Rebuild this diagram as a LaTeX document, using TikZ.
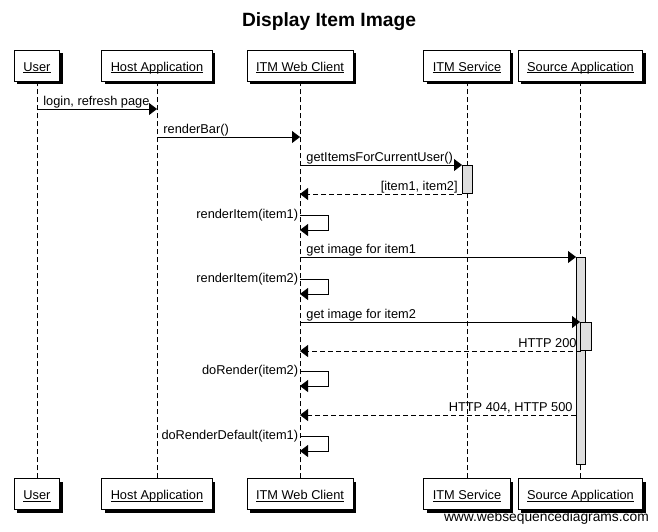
\documentclass[tikz,border=0pt]{standalone}
\usepackage{fontspec}
\setmainfont{Liberation Sans}
\usetikzlibrary{arrows.meta,positioning,shadows}
\newcommand{\actorname}[1]{\underline{\smash{#1}}}
\tikzstyle{actor}=[
	rectangle,
	draw,
	line width=0.8pt,
	fill=white,
	minimum height=31pt,
	inner xsep=9pt,
	text height=12pt,
	text depth=1pt,
	font=\fontsize{12.8}{15}\selectfont,
	drop shadow={shadow xshift=3pt,shadow yshift=-3pt,opacity=1,fill=black},
	node distance=397pt
]
\tikzstyle{lifeline}=[
	line width=0.8pt,
	dash pattern=on 5pt off 3pt
]
\tikzstyle{call}=[
	-{Triangle[length=8pt,width=12pt]},
	line width=0.8pt
]
\tikzstyle{reply}=[
	call,
	dash pattern=on 5pt off 3pt
]
\tikzstyle{activation}=[
	draw,
	line width=0.8pt,
	fill=black!13
]
\tikzstyle{msgtext}=[
	font=\fontsize{12.8}{15}\selectfont,
	inner sep=2pt
]
\tikzstyle{selftext}=[
	msgtext,
	anchor=east,
	inner sep=1.5pt
]

\begin{document}
\begin{tikzpicture}[x=1pt,y=-1pt]
\useasboundingbox (0,0) rectangle (658,531);
\node [font=\bfseries\fontsize{19.2}{22}\selectfont] (title) at (329,22) {Display Item Image};
% participants
\node [actor] (user) at (37,65.5) {\actorname{User}};
\node [actor] (host) at (157,65.5) {\actorname{Host Application}};
\node [actor] (client) at (300,65.5) {\actorname{ITM Web Client}};
\node [actor] (service) at (467,65.5) {\actorname{ITM Service}};
\node [actor] (source) at (580.5,65.5) {\actorname{Source Application}};
\node [actor] (userB)[below=of user] {\actorname{User}}
	edge [lifeline] (user);
\node [actor] (hostB)[below=of host] {\actorname{Host Application}}
	edge [lifeline] (host);
\node [actor] (clientB)[below=of client] {\actorname{ITM Web Client}}
	edge [lifeline] (client);
\node [actor] (serviceB)[below=of service] {\actorname{ITM Service}}
	edge [lifeline] (service);
\node [actor] (sourceB)[below=of source] {\actorname{Source Application}}
	edge [lifeline] (source);
% activations
\filldraw [activation] (462,165) rectangle (472,193);
\filldraw [activation] (576,257) rectangle (585,464);
\filldraw [activation] (580,322) rectangle (591,350);
% messages
\draw [call] (user |- 0,109) -- node [msgtext,pos=0,anchor=base west,xshift=4pt,yshift=4pt] {login, refresh page} (host |- 0,109);
\draw [call] (host |- 0,137) -- node [msgtext,pos=0,anchor=base west,xshift=4pt,yshift=4pt] {renderBar()} (client |- 0,137);
\draw [call,shorten >=5pt] (client |- 0,165) -- node [msgtext,pos=0,anchor=base west,xshift=4pt,yshift=4pt] {getItemsForCurrentUser()} (service |- 0,165);
\draw [reply,shorten <=5pt] (service |- 0,194) -- node [msgtext,pos=0,anchor=base east,xshift=-7pt,yshift=4pt] {[item1, item2]} (client |- 0,194);
\draw [call] (client |- 0,215) node [selftext] {renderItem(item1)} -- ++(28,0) |- (client |- 0,230);
\draw [call,shorten >=4.5pt] (client |- 0,257) -- node [msgtext,pos=0,anchor=base west,xshift=4pt,yshift=4pt] {get image for item1} (source |- 0,257);
\draw [call] (client |- 0,279) node [selftext] {renderItem(item2)} -- ++(28,0) |- (client |- 0,294);
\draw [call,shorten >=0.5pt] (client |- 0,322) -- node [msgtext,pos=0,anchor=base west,xshift=4pt,yshift=4pt] {get image for item2} (source |- 0,322);
\draw [reply] (source |- 0,351) -- node [msgtext,pos=0,anchor=base east,xshift=-1.5pt,yshift=4pt] {HTTP 200} (client |- 0,351);
\draw [call] (client |- 0,371) node [selftext] {doRender(item2)} -- ++(28,0) |- (client |- 0,386);
\draw [reply,shorten <=4.5pt] (source |- 0,415) -- node [msgtext,pos=0,anchor=base east,xshift=-5.5pt,yshift=4pt] {HTTP 404, HTTP 500} (client |- 0,415);
\draw [call] (client |- 0,436) node [selftext] {doRenderDefault(item1)} -- ++(28,0) |- (client |- 0,451);
\node [font=\fontsize{13.8}{16}\selectfont,anchor=base east,inner sep=0pt] (footer) at (649,521) {www.websequencediagrams.com};
\end{tikzpicture}
\end{document}
